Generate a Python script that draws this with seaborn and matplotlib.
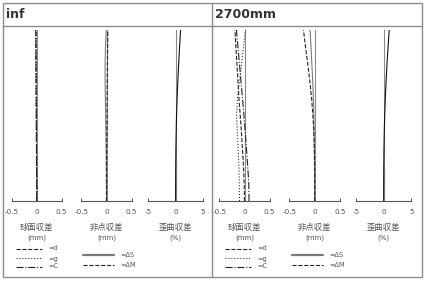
import matplotlib
matplotlib.use("Agg")
import matplotlib.pyplot as plt
import seaborn as sns
import numpy as np
import pandas as pd
from matplotlib.patches import Rectangle

sns.set_theme(style="white")
plt.rcParams['font.family'] = ['DejaVu Sans', 'Noto Sans CJK JP']
plt.rcParams['axes.unicode_minus'] = False

# ---- data (normalized height 0..1 along the vertical axis) ----
heights = [0.0, 0.1, 0.2, 0.3, 0.4, 0.5, 0.6, 0.7, 0.8, 0.9, 1.0]

inf_sph_d = [0, -0.001, -0.002, -0.003, -0.005, -0.006, -0.008, -0.010, -0.012, -0.014, -0.016]
inf_sph_g = [0, 0.0, -0.001, -0.002, -0.003, -0.004, -0.005, -0.006, -0.008, -0.010, -0.012]
inf_sph_C = [0, -0.001, -0.003, -0.005, -0.007, -0.009, -0.011, -0.013, -0.015, -0.017, -0.020]
inf_ast_S = [0, -0.002, -0.005, -0.008, -0.012, -0.017, -0.022, -0.027, -0.028, -0.020, -0.005]
inf_ast_M = [0, 0.001, 0.002, 0.004, 0.006, 0.009, 0.012, 0.015, 0.018, 0.022, 0.026]
inf_dist = [0, 0.005, 0.02, 0.05, 0.10, 0.17, 0.27, 0.40, 0.55, 0.72, 0.90]

n27_sph_d = [0, -0.005, -0.02, -0.04, -0.06, -0.085, -0.11, -0.13, -0.15, -0.17, -0.19]
n27_sph_g = [-0.10, -0.103, -0.11, -0.125, -0.14, -0.158, -0.14, -0.10, -0.06, -0.02, 0.02]
n27_sph_C = [0.09, 0.085, 0.065, 0.04, 0.015, -0.01, -0.04, -0.07, -0.10, -0.13, -0.16]
n27_ast_S = [0, -0.001, -0.003, -0.006, -0.010, -0.016, -0.025, -0.038, -0.055, -0.072, -0.09]
n27_ast_M = [0, 0.001, 0.0, -0.005, -0.015, -0.035, -0.06, -0.095, -0.135, -0.18, -0.22]
n27_dist = [0, 0.005, 0.02, 0.055, 0.11, 0.19, 0.30, 0.44, 0.60, 0.80, 1.00]

panel_titles = ["inf", "2700mm"]
sub_labels = ["球面収差", "非点収差", "歪曲収差"]
sub_units = ["(mm)", "(mm)", "(%)"]
tick_sets = [[-0.5, 0, 0.5], [-0.5, 0, 0.5], [-5, 0, 5]]
tick_texts = [["-0.5", "0", "0.5"], ["-0.5", "0", "0.5"], ["-5", "0", "5"]]
sph_names = ["=d", "=g", "=C"]
ast_names = ["=ΔS", "=ΔM"]

panels = [
    dict(title=panel_titles[0], x0=3,
         sph=[inf_sph_d, inf_sph_g, inf_sph_C], ast=[inf_ast_S, inf_ast_M], dist=inf_dist,
         axx=[(11.7, 50.0), (81.3, 50.4), (148.0, 55.2)]),
    dict(title=panel_titles[1], x0=212,
         sph=[n27_sph_d, n27_sph_g, n27_sph_C], ast=[n27_ast_S, n27_ast_M], dist=n27_dist,
         axx=[(219.3, 50.4), (289.3, 50.7), (356.0, 55.3)]),
]

W, H = 424, 283
fig = plt.figure(figsize=(W / 100, H / 100), dpi=100)
fig.patch.set_facecolor("white")

# overlay axes in pixel coordinates for frame and legend samples
ov = fig.add_axes([0, 0, 1, 1])
ov.set_xlim(0, W)
ov.set_ylim(H, 0)
ov.axis("off")
ov.patch.set_alpha(0)

frame_c = "#8c8c8c"
ov.add_patch(Rectangle((3, 3), 418.5, 273.5, fill=False, edgecolor=frame_c, lw=1.0))
ov.plot([3, 421.5], [26, 26], color=frame_c, lw=1.0)
ov.plot([212, 212], [3, 276.5], color=frame_c, lw=1.0)

sph_styles = [dict(ls="--", color="#222222"), dict(ls=":", color="#333333"), dict(ls="-.", color="#222222")]
ast_styles = [dict(ls="-", color="#7a7a7a"), dict(ls="--", color="#222222")]

top_px, bot_px = 30.0, 201.0
lab_c = "#555555"

def fy(py):
    return 1 - py / H

for p in panels:
    ov.text(p["x0"] + 3, 15, p["title"], fontsize=9, fontweight="bold", color="#333333",
            va="center", ha="left")
    series_sets = [p["sph"], p["ast"], [p["dist"]]]
    style_sets = [sph_styles, ast_styles, [dict(ls="-", color="#111111")]]
    for k in range(3):
        xl, wpx = p["axx"][k]
        ax = fig.add_axes([xl / W, fy(bot_px), wpx / W, (bot_px - top_px) / H])
        ax.patch.set_alpha(0)
        lim = tick_sets[k][-1]
        ax.axvline(0, color="#8a8a8a", lw=0.8, zorder=1)
        for vals, st in zip(series_sets[k], style_sets[k]):
            sns.lineplot(x=vals, y=heights, sort=False, estimator=None, ax=ax,
                         color=st["color"], linestyle=st["ls"], lw=0.8, zorder=3)
        ax.set_xlim(-lim, lim)
        ax.set_ylim(0, 1)
        for s in ["top", "left", "right"]:
            ax.spines[s].set_visible(False)
        ax.spines["bottom"].set_color("#555555")
        ax.spines["bottom"].set_linewidth(0.8)
        ax.set_yticks([])
        ax.set_xticks(tick_sets[k])
        ax.set_xticklabels(tick_texts[k])
        ax.tick_params(axis="x", direction="in", length=2.5, width=0.7, color="#555555",
                       labelsize=5.2, labelcolor=lab_c, pad=6, bottom=True)
        ax.set_xlabel("")
        ax.set_ylabel("")
        cx = xl + wpx / 2
        ov.text(cx, 227, sub_labels[k], fontsize=6, color=lab_c, ha="center", va="center",
                family=["Noto Sans CJK JP", "DejaVu Sans"])
        ov.text(cx, 237.5, sub_units[k], fontsize=5, color=lab_c, ha="center", va="center")

    # legend samples
    x0 = p["x0"]
    rows = [248.5, 258.0, 266.5]
    for name, st, yy in zip(sph_names, sph_styles, rows):
        ov.plot([x0 + 13, x0 + 39], [yy, yy], color=st["color"], ls=st["ls"], lw=0.8)
        ov.text(x0 + 45, yy + (1.5 if name == "=g" else 0), name, fontsize=4.7, color=lab_c,
                ha="left", va="center")
    rows2 = [255.0, 265.0]
    for name, st, yy in zip(ast_names, ast_styles, rows2):
        ov.plot([x0 + 80, x0 + 111], [yy, yy], color=st["color"], ls=st["ls"],
                lw=(1.6 if st["ls"] == "-" else 0.8))
        ov.text(x0 + 117, yy, name, fontsize=4.7, color=lab_c, ha="left", va="center")

fig.savefig("out.png", dpi=100, facecolor="white")
